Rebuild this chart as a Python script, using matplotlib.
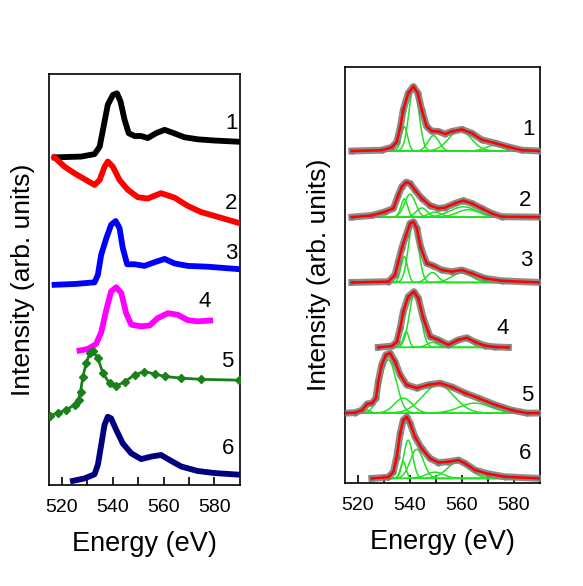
import numpy as np
import matplotlib
matplotlib.use("Agg")
import matplotlib.pyplot as plt

plt.rcParams['font.family'] = ['Liberation Sans', 'DejaVu Sans']

# ---- left panel: offset spectra (energy in eV, intensity in arb. units) ----
e1 = [517.2, 527.7, 532.9, 534.9, 536.2, 538.1, 540.1, 541.7, 543.1, 544.7, 546.3, 548.6, 551.2, 553.8, 557.1, 560.4, 563.6, 568.2, 573.4, 580.0, 589.8]
i1 = [79.7, 79.9, 80.5, 82.3, 86.4, 92.5, 94.9, 95.3, 93.3, 88.8, 85.6, 84.9, 84.9, 84.4, 85.6, 86.4, 85.7, 84.6, 84.1, 83.8, 83.5]

e2 = [517.2, 521.2, 525.1, 529.0, 532.9, 534.9, 536.8, 538.1, 540.1, 542.7, 546.0, 549.9, 553.8, 559.0, 564.3, 569.5, 574.7, 582.6, 589.8]
i2 = [79.7, 77.4, 75.8, 74.4, 73.0, 74.2, 77.4, 78.7, 77.4, 74.2, 71.8, 70.0, 69.7, 71.0, 69.9, 67.9, 66.4, 65.0, 63.7]

e3 = [517.2, 525.1, 532.9, 534.2, 535.5, 537.5, 539.4, 541.2, 542.7, 544.0, 545.7, 548.6, 552.5, 556.5, 560.4, 564.3, 569.5, 577.4, 589.8]
i3 = [48.7, 48.9, 49.3, 51.1, 56.0, 60.0, 63.3, 64.2, 62.5, 57.6, 53.7, 53.7, 53.3, 54.2, 55.0, 53.9, 53.3, 53.1, 52.5]

e4 = [527.0, 530.3, 533.5, 535.5, 537.5, 539.4, 541.4, 543.4, 545.3, 547.3, 551.2, 554.5, 557.7, 561.7, 565.6, 569.5, 573.4, 578.3]
i4 = [32.7, 33.1, 34.3, 37.1, 42.6, 47.1, 48.1, 46.7, 41.8, 39.0, 38.6, 38.8, 40.6, 41.8, 41.4, 40.1, 39.8, 40.0]

e5 = [515.3, 518.5, 521.8, 525.1, 526.6, 527.4, 528.3, 529.6, 531.0, 532.3, 534.2, 536.2, 538.8, 541.4, 544.7, 548.6, 552.5, 556.5, 560.4, 566.9, 574.7, 589.8]
i5 = [16.9, 17.5, 18.3, 19.5, 20.7, 22.7, 26.3, 29.6, 32.0, 32.7, 30.8, 27.2, 24.7, 24.1, 25.1, 26.8, 27.6, 27.0, 26.4, 26.0, 25.7, 25.5]

e6 = [524.4, 529.0, 532.9, 534.2, 535.5, 536.8, 538.1, 539.4, 541.4, 544.0, 547.3, 551.2, 555.1, 559.0, 562.3, 566.9, 573.4, 580.0, 589.8]
i6 = [1.0, 1.6, 2.6, 4.9, 9.7, 14.6, 16.6, 16.2, 13.4, 10.1, 7.7, 6.3, 6.9, 7.3, 6.1, 4.5, 3.4, 2.9, 2.5]

left_colors = ['#000000', '#ff0000', '#0000ff', '#ff00ff', '#1a801a', '#000080']
left_lab_x = [586.5, 586.5, 586.5, 576.1, 585.2, 585.2]
left_lab_y = [88.0, 68.5, 56.4, 44.6, 30.0, 8.9]

# ---- right panel: measured spectra with fit components ----
r1e = [517.6, 529.1, 533.0, 534.9, 536.2, 537.4, 539.3, 541.3, 543.0, 544.5, 546.4, 548.3, 550.9, 553.5, 556.0, 559.9, 563.7, 567.6, 572.7, 577.8, 583.0, 590.0]
r1i = [79.8, 80.0, 80.7, 82.0, 85.3, 89.7, 93.7, 95.3, 93.7, 89.7, 85.7, 84.6, 84.5, 83.9, 84.5, 85.0, 84.1, 82.5, 81.7, 80.8, 80.0, 79.8]

r2e = [517.6, 525.3, 530.4, 533.6, 535.5, 536.8, 538.5, 540.0, 541.9, 544.5, 547.7, 550.9, 553.5, 557.3, 560.5, 563.7, 567.6, 571.4, 575.3, 590.0]
r2i = [63.9, 64.3, 65.2, 66.0, 69.2, 71.2, 72.3, 72.0, 70.4, 68.4, 66.7, 66.0, 66.2, 67.2, 67.9, 67.2, 66.0, 64.8, 64.0, 63.9]

r3e = [517.6, 531.7, 534.2, 535.5, 536.8, 538.5, 540.0, 541.3, 542.6, 544.2, 546.4, 549.0, 552.2, 556.0, 559.9, 563.7, 568.8, 575.3, 590.0]
r3i = [48.2, 48.4, 50.0, 53.2, 56.4, 59.6, 62.4, 62.8, 61.2, 56.4, 52.8, 52.2, 51.2, 50.8, 51.2, 50.4, 49.2, 48.6, 48.2]

r4e = [527.8, 533.0, 534.9, 536.2, 537.4, 539.3, 541.5, 543.2, 545.1, 547.7, 550.9, 554.7, 558.6, 561.8, 565.0, 568.8, 572.7, 577.8]
r4i = [32.6, 32.9, 33.9, 37.2, 41.2, 44.8, 46.0, 44.4, 39.6, 35.2, 34.4, 33.2, 34.4, 34.9, 33.9, 33.0, 32.7, 32.6]

r5e = [515.0, 518.8, 521.5, 523.5, 525.4, 526.9, 527.8, 529.1, 530.7, 532.3, 534.2, 536.2, 538.7, 542.6, 547.0, 551.5, 556.0, 561.2, 566.3, 572.7, 579.1, 584.9, 590.0]
r5i = [16.8, 16.9, 17.5, 19.0, 19.2, 20.4, 24.4, 28.4, 30.8, 31.2, 29.2, 26.0, 23.6, 22.8, 23.6, 24.0, 23.1, 21.6, 20.4, 18.8, 17.5, 16.8, 16.8]

r6e = [525.3, 531.7, 533.6, 534.9, 536.2, 537.4, 538.7, 540.0, 541.9, 544.5, 547.7, 550.9, 554.7, 558.6, 561.2, 565.0, 570.1, 576.5, 590.0]
r6i = [1.1, 1.4, 2.7, 6.3, 11.9, 15.1, 15.9, 14.4, 11.1, 8.3, 5.9, 4.9, 5.1, 5.5, 4.7, 3.1, 2.2, 1.5, 1.1]

# fit components: centre (eV), height, FWHM (eV)
p1_c = [537.8, 541.5, 549.0, 559.2, 572.7]
p1_h = [5.8, 15.5, 3.7, 5.0, 1.4]
p1_w = [3.0, 4.5, 5.0, 10.0, 8.0]

p2_c = [537.8, 540.0, 544.5, 549.6, 560.5, 562.4]
p2_h = [4.4, 5.5, 2.2, 1.2, 2.5, 1.8]
p2_w = [3.0, 5.0, 5.0, 6.0, 12.0, 10.0]

p3_c = [537.8, 541.3, 548.6, 559.9]
p3_h = [6.2, 14.4, 2.4, 2.3]
p3_w = [3.0, 4.5, 5.0, 9.0]

p4_c = [538.5, 541.9, 548.6, 561.8]
p4_h = [3.8, 13.4, 1.2, 2.2]
p4_w = [2.5, 5.0, 5.0, 7.0]

p5_c = [523.3, 531.7, 537.4, 550.9, 565.0]
p5_h = [0.8, 12.8, 3.6, 6.8, 2.4]
p5_w = [3.0, 7.0, 8.0, 14.0, 14.0]

p6_c = [537.4, 539.3, 542.6, 549.6, 558.6]
p6_h = [4.0, 9.2, 7.0, 1.5, 4.0]
p6_w = [2.5, 4.0, 6.0, 8.0, 10.0]

right_lab_x = [585.5, 584.2, 584.9, 575.6, 584.9, 584.2]
right_lab_y = [85.0, 68.0, 53.6, 37.2, 21.1, 7.1]

fig = plt.figure(figsize=(5.83, 5.86), dpi=100)
axL = fig.add_axes([0.084, 0.1724, 0.3276, 0.7014])
axR = fig.add_axes([0.5918, 0.1758, 0.3345, 0.7099])

left_sets = [(e1, i1), (e2, i2), (e3, i3), (e4, i4), (e5, i5), (e6, i6)]
for k, ((e, i), c) in enumerate(zip(left_sets, left_colors)):
    if k == 4:
        axL.plot(e, i, color=c, lw=2.0, marker='D', ms=4, zorder=3)
    else:
        axL.plot(e, i, color=c, lw=4.2, solid_joinstyle='round', zorder=3)
    axL.text(left_lab_x[k], left_lab_y[k], str(k + 1), fontsize=16,
             ha='center', va='center')

right_sets = [(r1e, r1i, p1_c, p1_h, p1_w), (r2e, r2i, p2_c, p2_h, p2_w),
              (r3e, r3i, p3_c, p3_h, p3_w), (r4e, r4i, p4_c, p4_h, p4_w),
              (r5e, r5i, p5_c, p5_h, p5_w), (r6e, r6i, p6_c, p6_h, p6_w)]
for k, (e, i, pc, ph, pw) in enumerate(right_sets):
    base = i[-1]
    xx = np.linspace(e[0] + 6 if k != 4 else e[0], e[-1], 400)
    for c, h, w in zip(pc, ph, pw):
        yy = base + h * np.exp(-4 * np.log(2) * (xx - c) ** 2 / w ** 2)
        axR.plot(xx, yy, color='#22e022', lw=1.1, zorder=2)
    axR.plot(e, i, color='#808080', lw=5.0, marker='o', ms=3.5,
             alpha=0.9, solid_joinstyle='round', zorder=3)
    axR.plot(e, i, color='#ff0000', lw=1.8, solid_joinstyle='round', zorder=4)
    axR.text(right_lab_x[k], right_lab_y[k], str(k + 1), fontsize=16,
             ha='center', va='center')

for ax in (axL, axR):
    ax.set_xlim(515, 590)
    ax.set_ylim(0, 100)
    ax.set_xticks([520, 540, 560, 580])
    ax.set_xticks([530, 550, 570], minor=True)
    ax.tick_params(axis='x', which='both', direction='in', length=6,
                   width=1.2, labelsize=14, top=False, pad=10)
    ax.set_yticks([])
    for s in ax.spines.values():
        s.set_linewidth(1.2)
    ax.set_xlabel('Energy (eV)', fontsize=19.5, labelpad=11)
    ax.set_ylabel('Intensity (arb. units)', fontsize=19, labelpad=10)

fig.savefig('out.png', dpi=100)
